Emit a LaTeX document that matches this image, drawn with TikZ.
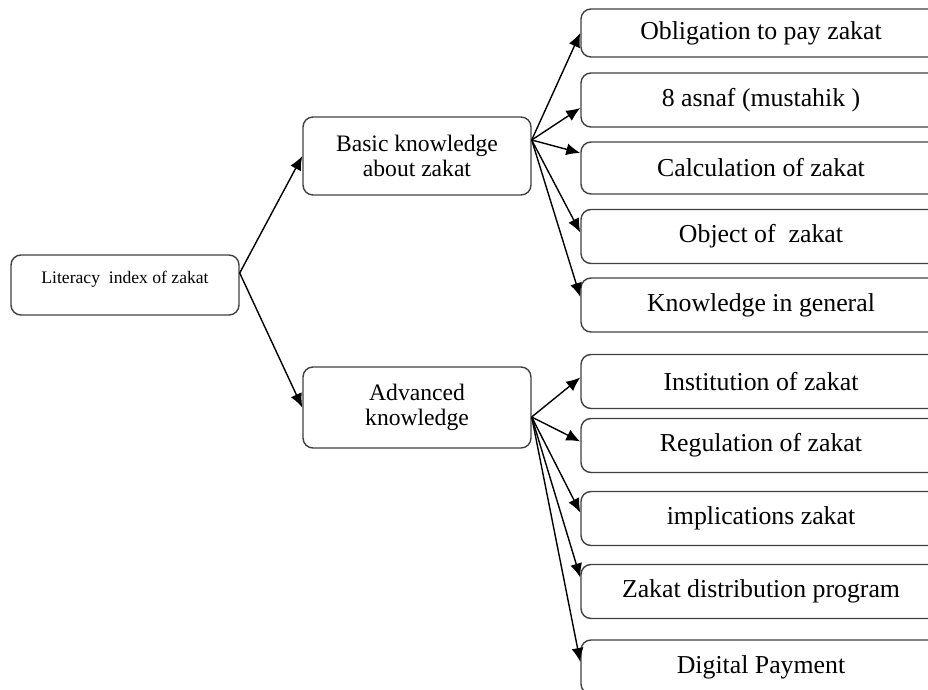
\documentclass[tikz,border=0pt]{standalone}
\usepackage{fontspec}
\setmainfont{Liberation Serif}
\usetikzlibrary{arrows.meta,positioning}

\begin{document}
\begin{tikzpicture}[x=0.5pt,y=-0.5pt]
\tikzstyle{box}=[draw=black!75,line width=0.7pt,rounded corners=5pt,inner sep=0pt,align=center]
\tikzstyle{midbox}=[box,minimum width=114pt,font=\fontsize{11.8}{12.5}\selectfont]
\tikzstyle{leafbox}=[box,minimum width=180pt,minimum height=27pt,font=\fontsize{12.9}{14}\selectfont]
\tikzstyle{arrow}=[line width=0.7pt,-{Latex[length=7pt,width=6pt]}]
\useasboundingbox (0,0) rectangle (928,690);
% root
\node [box,minimum width=114pt,text height=14.5pt,text depth=15.5pt,font=\fontsize{8.8}{10}\selectfont] at (125,285) (root) {Literacy\ \ index of zakat};
% middle level
\node [midbox,minimum height=39pt] at (417,156) (basic) {Basic knowledge\\about zakat};
\node [midbox,minimum height=40.5pt] at (417,407.5) (adv) {Advanced\\knowledge};
% leaves
\node [leafbox,minimum height=24pt] at (761,33) (obl) {Obligation to pay zakat};
\node [leafbox] at (761,100) (asnaf) {8 asnaf (mustahik )};
\node [leafbox,minimum height=26pt] at (761,168) (calc) {Calculation of zakat};
\node [leafbox] at (761,236.5) (obj) {Object of\ \ zakat};
\node [leafbox] at (761,305) (gen) {Knowledge in general};
\node [leafbox] at (761,381.5) (inst) {Institution of zakat};
\node [leafbox] at (761,445.5) (reg) {Regulation of zakat};
\node [leafbox] at (761,518.5) (impl) {implications zakat};
\node [leafbox] at (761,591.5) (dist) {Zakat distribution program};
\node [leafbox] at (761,667) (dig) {Digital Payment};
% arrows
\draw [arrow] ([yshift=6pt]root.east) -- (basic.west);
\draw [arrow] ([yshift=6pt]root.east) -- (adv.west);
\foreach \t/\s in {obl/0pt,asnaf/-4pt,calc/7.5pt,obj/2pt,gen/4pt}
  \draw [arrow] ([yshift=8pt]basic.east) -- ([yshift=\s]\t.west);
\foreach \t/\s in {inst/2pt,reg/2pt,impl/3pt,dist/7pt,dig/2.5pt}
  \draw [arrow] ([yshift=-4.75pt]adv.east) -- ([yshift=\s]\t.west);
\end{tikzpicture}
\end{document}
